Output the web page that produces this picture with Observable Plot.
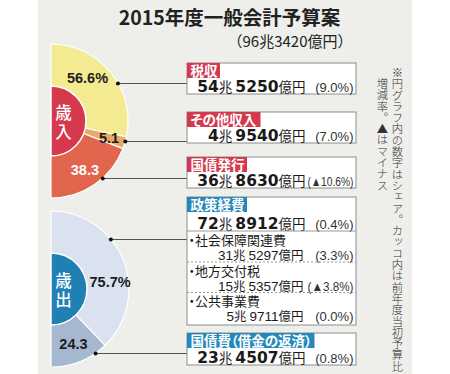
<!DOCTYPE html>
<html><head><meta charset="utf-8">
<script src="https://cdn.jsdelivr.net/npm/d3@7"></script>
<script src="https://cdn.jsdelivr.net/npm/@observablehq/plot@0.6"></script>
<style>
body{margin:0;background:#fff;width:450px;height:374px;overflow:hidden}
#wrap{position:relative;width:450px;height:374px}
.note{position:absolute;writing-mode:vertical-rl;font-family:"Noto Sans CJK JP",sans-serif;font-weight:300;color:#333;white-space:nowrap;line-height:1}
svg text{font-feature-settings:"palt"}
</style></head><body><div id="wrap"></div>
<script>
// ---------- data ----------
const title = "2015年度一般会計予算案";
const subtitle = "（96兆3420億円）";
const pieNames = ["歳\n入", "歳\n出"];
const revenueItems = ["税収", "その他収入", "国債発行"];
const revenueShare = [56.6, 5.1, 38.3];
const revenueShareLabels = ["56.6%", "5.1", "38.3"];
const revenueAmounts = ["54兆5250億円", "4兆9540億円", "36兆8630億円"];
const revenueChange = ["(9.0%)", "(7.0%)", "(▲10.6%)"];
const expenditureItems = ["政策経費", "国債費（借金の返済）"];
const expenditureShare = [75.7, 24.3];
const expenditureShareLabels = ["75.7%", "24.3"];
const expenditureAmounts = ["72兆8912億円", "23兆4507億円"];
const expenditureChange = ["(0.4%)", "(0.8%)"];
const policyItems = ["・社会保障関連費", "・地方交付税", "・公共事業費"];
const policyAmounts = ["31兆5297億円", "15兆5357億円", "5兆9711億円"];
const policyChange = ["(3.3%)", "(▲3.8%)", "(0.0%)"];
const noteLines = ["※円グラフ内の数字はシェア。カッコ内は前年度当初予算比", "増減率。▲はマイナス"];

// ---------- layout ----------
const layout = {
  W: 450, H: 374, bgX: [38, 412], bg: "#eeeeea",
  titlePos: {x: 229, y: 24}, subtitlePos: {x: 227, y: 46},
  pies: [
    {cx: 51, cy: 121, r: 77, r0: 35, colors: ["#f4ea92", "#e8aa66", "#e2654d"], inner: "#d4394e",
     labelFill: ["#1d1d1d", "#1d1d1d", "#ffffff"], labelPos: [{a: 40, r: 56}, {r: 60}, {r: 59}]},
    {cx: 51, cy: 289, r: 78, r0: 36, colors: ["#d9e2ee", "#a5b8d0"], inner: "#2080b4",
     labelFill: ["#1d1d1d", "#1d1d1d"], labelPos: [{a: 83, r: 59}, {r: 59}]}
  ],
  boxX: [187, 356], tabH: 15, tabFont: 13.5,
  revBoxes: [{y1: 63, y2: 94, line: 83, tab: "#d4394e"}, {y1: 112, y2: 143, line: 141, tab: "#d4394e"}, {y1: 157, y2: 188, line: 178, tab: "#d4394e"}],
  expBoxes: [{y1: 197, y2: 325, line: 239, tab: "#2688ba", valueY: 228}, {y1: 333, y2: 365, line: 353, tab: "#2688ba"}],
  mainSep: 230.5, subTop: [231, 261.5, 292], subH: 30.5,
  amountEnd: 305, subAmountEnd: 303, pctEnd: 353,
  notes: [{x: 391, y: 67}, {x: 376, y: 78}], noteSize: 11.3
};

const toRad = a => a * Math.PI / 180;
const tabWidth = s => [...s].reduce((w, c) => w + ("（）".includes(c) ? 0.5 : 1), 0) * layout.tabFont + 6;

function pieRows(names, shares, labels, P) {
  const arcs = d3.pie().sort(null).value(d => d).startAngle(0).endAngle(Math.PI)(shares);
  return names.map((name, i) => {
    const mid = (arcs[i].startAngle + arcs[i].endAngle) / 2;
    const lp = P.labelPos[i];
    const a = lp.a != null ? toRad(lp.a) : mid;
    return {name, share: shares[i], label: labels[i], arc: arcs[i], color: P.colors[i], lfill: P.labelFill[i],
      lx: P.cx + lp.r * Math.sin(a), ly: P.cy - lp.r * Math.cos(a)};
  });
}
const revPie = pieRows(revenueItems, revenueShare, revenueShareLabels, layout.pies[0]);
const expPie = pieRows(expenditureItems, expenditureShare, expenditureShareLabels, layout.pies[1]);

function boxRows(names, amounts, changes, boxes, P) {
  return names.map((name, i) => {
    const b = boxes[i];
    const dy = b.line - P.cy;
    return {name, amount: amounts[i], change: changes[i], ...b,
      valueY: b.valueY != null ? b.valueY : b.y2 - 2.5,
      dotX: P.cx + Math.sqrt(P.r * P.r - dy * dy) - 0.5,
      tabW: tabWidth(name)};
  });
}
const revBoxes = boxRows(revenueItems, revenueAmounts, revenueChange, layout.revBoxes, layout.pies[0]);
const expBoxes = boxRows(expenditureItems, expenditureAmounts, expenditureChange, layout.expBoxes, layout.pies[1]);
const allBoxes = revBoxes.concat(expBoxes);
const subRows = policyItems.map((name, i) => ({name, amount: policyAmounts[i], change: policyChange[i], top: layout.subTop[i]}));

function pieMark(rows, P) {
  return (index, {x, y}) => {
    const g = d3.create("svg:g").attr("aria-label", "pie");
    const tr = `translate(${x(P.cx)},${y(P.cy)})`;
    const arc = d3.arc().innerRadius(0).outerRadius(P.r);
    g.selectAll("path.slice").data(rows).join("path").attr("class", "slice")
      .attr("transform", tr).attr("d", d => arc(d.arc)).attr("fill", d => d.color)
      .attr("stroke", "#fff").attr("stroke-width", 1.2);
    g.append("path").attr("transform", tr)
      .attr("d", d3.arc()({innerRadius: 0, outerRadius: P.r0, startAngle: 0, endAngle: Math.PI}))
      .attr("fill", P.inner).attr("stroke", "#fff").attr("stroke-width", 1.5);
    return g.node();
  };
}

const numFont = "'Liberation Sans', 'Noto Sans CJK JP', sans-serif";
const jpFont = "'Noto Sans CJK JP', sans-serif";
const X = layout.boxX;

const chart = Plot.plot({
  width: layout.W, height: layout.H, margin: 0,
  x: {domain: [0, layout.W], range: [0, layout.W], axis: null},
  y: {domain: [0, layout.H], range: [0, layout.H], axis: null},
  style: {background: "#fff", fontFamily: jpFont},
  marks: [
    Plot.rect([layout], {x1: d => d.bgX[0], x2: d => d.bgX[1], y1: () => 0, y2: d => d.H, fill: layout.bg}),
    // titles
    Plot.text([title], {x: () => layout.titlePos.x, y: () => layout.titlePos.y, text: d => d, fontSize: 19.5, fontWeight: "bold", fontFamily: jpFont, fill: "#222", lineAnchor: "bottom"}),
    Plot.text([subtitle], {x: () => layout.subtitlePos.x, y: () => layout.subtitlePos.y, text: d => d, fontSize: 15, fontFamily: jpFont, fill: "#222", textAnchor: "start", lineAnchor: "bottom"}),
    // pies
    pieMark(revPie, layout.pies[0]),
    pieMark(expPie, layout.pies[1]),
    Plot.text(revPie.concat(expPie), {x: "lx", y: "ly", text: "label", fill: "lfill", fontSize: 14.5, fontWeight: "bold", fontFamily: numFont}),
    Plot.text(pieNames, {x: (d, i) => layout.pies[i].cx + 12, y: (d, i) => layout.pies[i].cy + 1, text: d => d, fill: "#fff", fontSize: 16.5, lineHeight: 1.15, fontFamily: numFont, fontWeight: 500}),
    // leader lines
    Plot.link(allBoxes, {x1: "dotX", y1: "line", x2: () => X[0], y2: "line", stroke: "#555", strokeWidth: 1}),
    Plot.dot(allBoxes, {x: "dotX", y: "line", r: 2, fill: "#111", stroke: null}),
    // boxes
    Plot.rect(allBoxes, {x1: () => X[0], x2: () => X[1], y1: "y1", y2: "y2", fill: "#fff", stroke: "#8c8c8c", strokeWidth: 1}),
    Plot.rect(allBoxes, {x1: () => X[0], x2: d => X[0] + d.tabW, y1: "y1", y2: d => d.y1 + layout.tabH, fill: "tab"}),
    Plot.text(allBoxes, {x: () => X[0] + 3, y: d => d.y1 + 12.5, text: "name", fill: "#fff", fontSize: layout.tabFont, fontWeight: "bold", fontFamily: numFont, textAnchor: "start", lineAnchor: "bottom"}),
    Plot.text(allBoxes, {x: () => layout.amountEnd, y: "valueY", text: "amount", fill: "#1a1a1a", textAnchor: "end", lineAnchor: "bottom", fontFamily: numFont, fontSize: 14}),
    Plot.text(allBoxes, {x: () => layout.pctEnd, y: "valueY", text: "change", fill: "#333", textAnchor: "end", lineAnchor: "bottom", fontFamily: numFont, fontSize: 13}),
    // policy breakdown
    Plot.ruleY([layout.mainSep], {x1: () => X[0], x2: () => X[1], stroke: "#999", strokeWidth: 1}),
    Plot.ruleY(subRows.slice(1), {y: "top", x1: () => X[0], x2: () => X[1], stroke: "#999", strokeWidth: 1, strokeDasharray: "2,2"}),
    Plot.text(subRows, {x: () => X[0] + 1, y: d => d.top + 13.5, text: "name", fill: "#1a1a1a", fontSize: 13, fontFamily: numFont, textAnchor: "start", lineAnchor: "bottom"}),
    Plot.text(subRows, {x: () => layout.subAmountEnd, y: d => d.top + 28.5, text: "amount", fill: "#1a1a1a", textAnchor: "end", lineAnchor: "bottom", fontFamily: numFont, fontSize: 13.01}),
    Plot.text(subRows, {x: () => layout.pctEnd, y: d => d.top + 28.5, text: "change", fill: "#333", textAnchor: "end", lineAnchor: "bottom", fontFamily: numFont, fontSize: 13})
  ]
});

// mixed-size number formatting (digits large, units small)
const SVGNS = "http://www.w3.org/2000/svg";
const mainSpec = {digitSize: 15.5, digitWeight: "bold", digitFont: "'DejaVu Sans', sans-serif", unitSize: 13.5, gap: 3};
const subSpec = {digitSize: 13.5, digitWeight: "normal", digitFont: "'Liberation Sans', sans-serif", unitSize: 12.5, gap: 3};
chart.querySelectorAll("text").forEach(t => {
  const s = t.textContent;
  if (s === subtitle) {
    t.style.fontFeatureSettings = "normal";
  } else if (/^\d+兆\d+億円$/.test(s)) {
    const fs = parseFloat(t.closest("g").getAttribute("font-size"));
    const spec = fs === 14 ? mainSpec : subSpec;
    const parts = s.match(/\d+|[^\d]+/g);
    t.textContent = "";
    let groups = 0;
    parts.forEach(p => {
      const ts = document.createElementNS(SVGNS, "tspan");
      ts.textContent = p;
      if (/\d/.test(p)) {
        ts.setAttribute("font-size", spec.digitSize);
        ts.setAttribute("font-weight", spec.digitWeight);
        ts.setAttribute("font-family", spec.digitFont);
        if (groups++ > 0) ts.setAttribute("dx", spec.gap);
      } else {
        ts.setAttribute("font-size", spec.unitSize);
        ts.setAttribute("font-weight", "normal");
        ts.setAttribute("font-family", numFont);
      }
      t.appendChild(ts);
    });
  } else if (/^\(▲/.test(s)) {
    t.setAttribute("textLength", 46);
    t.setAttribute("lengthAdjust", "spacingAndGlyphs");
  }
});

const wrap = document.getElementById("wrap");
wrap.appendChild(chart);
noteLines.forEach((line, i) => {
  const d = document.createElement("div");
  d.className = "note";
  d.textContent = line;
  d.style.left = layout.notes[i].x + "px";
  d.style.top = layout.notes[i].y + "px";
  d.style.fontSize = layout.noteSize + "px";
  wrap.appendChild(d);
});
</script></body></html>
